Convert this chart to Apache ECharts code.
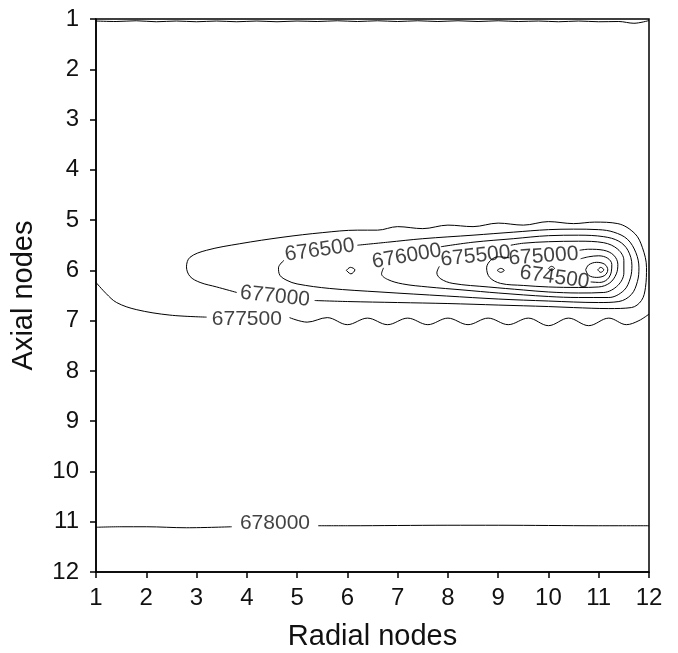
<!DOCTYPE html>
<html>
<head>
<meta charset="utf-8">
<title>Contour – axial vs radial nodes</title>
<script src="https://cdn.jsdelivr.net/npm/echarts@6/dist/echarts.min.js"></script>
<style>
  html, body { margin: 0; padding: 0; background: #fff; }
  #chart { width: 678px; height: 653px; }
</style>
</head>
<body>
<div id="chart"></div>
<script>
// axis ranges (nodes)
const radialRange = [1, 12];
const axialRange = [1, 12];

// contour labels: level text, position in node units, tilt
const contourLevels = ['678000', '677500', '677000', '676500', '676000', '675500', '675000', '674500'];
const labelX = [4.56, 4.0, 4.56, 5.45, 7.18, 8.55, 9.9, 10.12];
const labelY = [11.03, 6.98, 6.52, 5.6, 5.72, 5.72, 5.72, 6.14];
const labelAngle = [0, 0, -6, 8, 10, 6, 4, -8];

// traced contour lines, [radial, axial]
const topEdge = [[1, 1.04], [1.4, 1.05], [1.8, 1.035], [2.2, 1.055], [2.6, 1.04], [3.0, 1.055], [3.4, 1.04],
  [3.8, 1.055], [4.2, 1.04], [4.6, 1.055], [5.0, 1.04], [5.4, 1.05], [5.8, 1.035], [6.2, 1.05], [6.6, 1.035],
  [7.0, 1.05], [7.4, 1.035], [7.8, 1.05], [8.2, 1.035], [8.6, 1.05], [9.0, 1.035], [9.4, 1.05], [9.8, 1.04],
  [10.2, 1.055], [10.6, 1.04], [11.0, 1.055], [11.4, 1.05], [11.7, 1.085], [12, 1.03]];

const c678000a = [[1, 11.11], [1.5, 11.1], [2, 11.1], [2.8, 11.12], [3.7, 11.1]];
const c678000b = [[5.42, 11.08], [6, 11.08], [7, 11.075], [8, 11.07], [9, 11.07], [10, 11.075], [11, 11.08], [12, 11.08]];

const c677500a = [[1, 6.24], [1.2, 6.46], [1.41, 6.64], [1.8, 6.78], [2.47, 6.89], [3.2, 6.93]];
const c677500b = [[4.85, 6.94], [5.2, 7.03], [5.6, 6.94], [6.0, 7.08], [6.4, 6.95], [6.8, 7.08], [7.2, 6.95],
  [7.6, 7.08], [8.0, 6.95], [8.4, 7.08], [8.8, 6.95], [9.2, 7.08], [9.6, 6.95], [10.0, 7.1], [10.4, 6.95],
  [10.8, 7.1], [11.2, 6.95], [11.55, 7.08], [11.8, 7.0], [12, 6.87]];

const c677000 = [[3.8, 6.44], [3.4, 6.33], [3.07, 6.24], [2.87, 6.12], [2.8, 5.93], [2.87, 5.74], [3.2, 5.6],
  [3.86, 5.47], [4.72, 5.34], [5.5, 5.25], [6.2, 5.2], [6.6, 5.2], [7.0, 5.13], [7.5, 5.17], [8.0, 5.1],
  [8.5, 5.13], [9.0, 5.06], [9.5, 5.1], [10.0, 5.03], [10.5, 5.07], [10.92, 5.04], [11.38, 5.07], [11.72, 5.27],
  [11.87, 5.55], [11.95, 5.94], [11.93, 6.34], [11.85, 6.6], [11.65, 6.74], [11.2, 6.76], [10.5, 6.74],
  [10, 6.72], [9, 6.69], [8, 6.66], [7, 6.64], [6, 6.62], [5.35, 6.6]];

const c676500 = [[4.74, 5.8], [4.63, 5.95], [4.66, 6.1], [4.8, 6.2], [5.0, 6.27], [5.65, 6.36], [6.65, 6.43],
  [7.97, 6.51], [9, 6.57], [10, 6.61], [11, 6.64], [11.4, 6.62], [11.65, 6.48], [11.77, 6.22], [11.8, 5.95],
  [11.74, 5.65], [11.57, 5.38], [11.3, 5.24], [11, 5.19], [10.5, 5.18], [10, 5.19], [9.3, 5.24], [8.5, 5.3],
  [7.5, 5.37], [6.8, 5.44], [6.2, 5.5]];

const c676000 = [[6.72, 5.95], [6.68, 6.07], [6.8, 6.18], [7.1, 6.27], [7.6, 6.33], [8.3, 6.39], [9, 6.45],
  [10, 6.52], [10.6, 6.54], [11.2, 6.54], [11.5, 6.4], [11.63, 6.15], [11.66, 5.9], [11.58, 5.6], [11.4, 5.42],
  [11.1, 5.33], [10.6, 5.3], [10, 5.31], [9.3, 5.37], [8.5, 5.44], [7.86, 5.53]];

const c675500 = [[7.83, 5.92], [7.78, 6.05], [7.86, 6.17], [8.1, 6.26], [8.8, 6.33], [9.5, 6.39], [10, 6.43],
  [10.6, 6.45], [11.1, 6.44], [11.38, 6.3], [11.5, 6.05], [11.5, 5.8], [11.38, 5.58], [11.1, 5.45],
  [10.6, 5.42], [10, 5.43], [9.5, 5.46], [9.25, 5.5]];

const c675000 = [[9.22, 5.75], [9.0, 5.73], [8.85, 5.8], [8.77, 5.95], [8.83, 6.14], [9.05, 6.26], [9.5, 6.3],
  [10, 6.33], [10.6, 6.34], [11.0, 6.33], [11.22, 6.25], [11.35, 6.07], [11.38, 5.88], [11.3, 5.7],
  [11.1, 5.6], [10.8, 5.58], [10.62, 5.6]];

const c674500 = [[10.84, 6.23], [11.02, 6.24], [11.17, 6.18], [11.25, 6.03], [11.26, 5.88], [11.18, 5.76],
  [11.0, 5.71], [10.8, 5.73], [10.64, 5.77]];

const c674000 = [[10.74, 5.99], [10.8, 5.89], [10.96, 5.84], [11.12, 5.88], [11.18, 5.99], [11.12, 6.1],
  [10.96, 6.14], [10.8, 6.1], [10.74, 5.99]];

const c673500 = [[10.98, 5.99], [11.04, 5.94], [11.1, 5.99], [11.04, 6.04], [10.98, 5.99]];
const islandA = [[5.98, 6.0], [6.06, 5.94], [6.15, 5.99], [6.07, 6.07], [5.98, 6.0]];
const islandB = [[8.98, 6.0], [9.05, 5.96], [9.12, 6.0], [9.05, 6.04], [8.98, 6.0]];
const islandC = [[10.0, 5.96], [10.06, 5.92], [10.12, 5.96], [10.06, 6.0], [10.0, 5.96]];

const segments = [topEdge, c678000a, c678000b, c677500a, c677500b, c677000, c676500, c676000,
  c675500, c675000, c674500, c674000, c673500, islandA, islandB, islandC];

const FONT = '"Liberation Sans", Arial, sans-serif';
const INK = '#111';

const chart = echarts.init(document.getElementById('chart'));

const lineSeries = segments.map(seg => ({
  type: 'line',
  data: seg,
  smooth: 0.35,
  showSymbol: false,
  silent: true,
  lineStyle: { color: '#000', width: 1 },
}));

const labelSeries = {
  type: 'scatter',
  symbolSize: 0,
  silent: true,
  data: labelX.map((x, i) => ({
    value: [x, labelY[i]],
    label: { rotate: labelAngle[i] },
  })),
  label: {
    show: true,
    position: 'inside',
    formatter: p => contourLevels[p.dataIndex],
    fontFamily: FONT,
    fontSize: 21,
    color: INK,
  },
};

const axisCommon = {
  type: 'value',
  interval: 1,
  splitLine: { show: false },
  axisLine: { show: true, onZero: false, lineStyle: { color: '#000', width: 1.5 } },
  axisTick: { show: true, inside: false, length: 6, lineStyle: { color: '#000', width: 1.5 } },
  nameLocation: 'middle',
  nameTextStyle: { fontFamily: FONT, fontSize: 29, color: INK },
};

chart.setOption({
  animation: false,
  backgroundColor: '#fff',
  grid: {
    left: 96, right: 29, top: 19, bottom: 81,
    show: true, borderColor: '#000', borderWidth: 1.5,
    outerBoundsMode: 'none',
  },
  xAxis: Object.assign({}, axisCommon, {
    min: radialRange[0], max: radialRange[1],
    position: 'bottom',
    name: 'Radial nodes',
    nameGap: 50,
    axisLabel: { margin: 14, fontFamily: FONT, fontSize: 24, color: INK },
  }),
  yAxis: Object.assign({}, axisCommon, {
    min: axialRange[0], max: axialRange[1],
    inverse: true,
    position: 'left',
    name: 'Axial nodes',
    nameGap: 58,
    nameRotate: 90,
    axisLabel: { margin: 17, fontFamily: FONT, fontSize: 24, color: INK },
  }),
  series: lineSeries.concat([labelSeries]),
});
</script>
</body>
</html>
